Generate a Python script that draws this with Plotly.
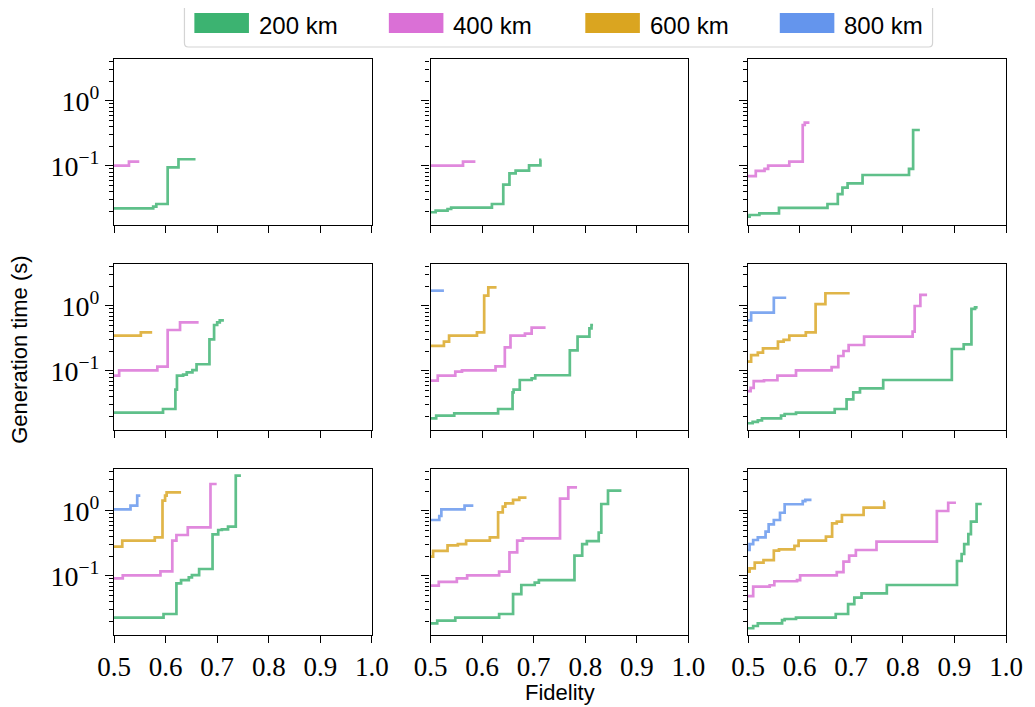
import plotly.graph_objects as go
from plotly.subplots import make_subplots

# the page body adds an 8px margin, so the figure is drawn 8px smaller
OFF = 8
W, H = 1035 - OFF, 707 - OFF
ML, MR, MT, MB = 114 - OFF, 22, 59 - OFF, 72

distances = ["200 km", "400 km", "600 km", "800 km"]
colors = ["#3CB371", "#DA70D6", "#DAA520", "#6495ED"]

x_ticks = [0.5, 0.6, 0.7, 0.8, 0.9, 1.0]
x_tick_labels = ["0.5", "0.6", "0.7", "0.8", "0.9", "1.0"]
y_major = [0.1, 1.0]
y_major_labels = ["10<sup>−1</sup>", "10<sup>0</sup>"]
y_minor = [0.02, 0.03, 0.04, 0.05, 0.06, 0.07, 0.08, 0.09,
           0.2, 0.3, 0.4, 0.5, 0.6, 0.7, 0.8, 0.9, 2, 3, 4]

# (fidelity, generation time [s]) step points, per panel and distance
r1c1_200 = [(0.5, 0.0223), (0.576, 0.0237), (0.582, 0.026), (0.604, 0.095), (0.625, 0.127), (0.658, 0.127)]
r1c1_400 = [(0.5, 0.101), (0.529, 0.117), (0.549, 0.117)]

r1c2_200 = [(0.5, 0.0194), (0.51, 0.0205), (0.533, 0.0218), (0.54, 0.0229), (0.619, 0.026), (0.641, 0.0516),
            (0.653, 0.077), (0.665, 0.0848), (0.691, 0.102), (0.713, 0.124), (0.715, 0.124)]
r1c2_400 = [(0.5, 0.101), (0.563, 0.117), (0.587, 0.117)]

r1c3_200 = [(0.5, 0.0166), (0.503, 0.0176), (0.522, 0.0187), (0.560, 0.0226), (0.654, 0.026), (0.674, 0.037),
            (0.683, 0.0464), (0.693, 0.054), (0.722, 0.0727), (0.812, 0.09), (0.820, 0.358), (0.833, 0.358)]
r1c3_400 = [(0.5, 0.070), (0.515, 0.0838), (0.532, 0.09), (0.539, 0.101), (0.580, 0.117), (0.606, 0.427),
            (0.610, 0.464), (0.619, 0.464)]

r2c1_200 = [(0.5, 0.0229), (0.595, 0.026), (0.619, 0.0516), (0.622, 0.0848), (0.634, 0.088), (0.641, 0.0955),
            (0.652, 0.103), (0.660, 0.127), (0.685, 0.307), (0.694, 0.51), (0.700, 0.56), (0.705, 0.6), (0.713, 0.6)]
r2c1_400 = [(0.5, 0.0848), (0.510, 0.102), (0.584, 0.117), (0.604, 0.427), (0.628, 0.56), (0.664, 0.56)]
r2c1_600 = [(0.5, 0.35), (0.552, 0.394), (0.574, 0.394)]

r2c2_200 = [(0.5, 0.0187), (0.511, 0.0205), (0.546, 0.0223), (0.631, 0.026), (0.659, 0.047), (0.661, 0.0516),
            (0.673, 0.0727), (0.696, 0.077), (0.703, 0.086), (0.770, 0.208), (0.785, 0.337), (0.808, 0.453),
            (0.812, 0.51), (0.815, 0.51)]
r2c2_400 = [(0.5, 0.071), (0.514, 0.0848), (0.548, 0.098), (0.561, 0.102), (0.626, 0.118), (0.644, 0.231),
            (0.655, 0.35), (0.683, 0.375), (0.696, 0.464), (0.723, 0.464)]
r2c2_600 = [(0.5, 0.243), (0.526, 0.283), (0.536, 0.35), (0.590, 0.394), (0.604, 1.44), (0.612, 1.94), (0.628, 1.94)]
r2c2_800 = [(0.5, 1.72), (0.526, 1.72)]

r2c3_200 = [(0.5, 0.0157), (0.509, 0.0165), (0.519, 0.0174), (0.527, 0.0187), (0.564, 0.0205), (0.571, 0.0218),
            (0.593, 0.0229), (0.668, 0.026), (0.691, 0.0366), (0.704, 0.047), (0.717, 0.054), (0.762, 0.0727),
            (0.895, 0.218), (0.918, 0.257), (0.933, 0.9), (0.940, 0.95), (0.945, 0.95)]
r2c3_400 = [(0.5, 0.049), (0.505, 0.055), (0.511, 0.070), (0.531, 0.072), (0.557, 0.0848), (0.593, 0.102),
            (0.662, 0.115), (0.675, 0.17), (0.685, 0.203), (0.695, 0.251), (0.725, 0.337), (0.819, 0.403),
            (0.823, 1.0), (0.834, 1.48), (0.847, 1.48)]
r2c3_600 = [(0.5, 0.139), (0.506, 0.176), (0.519, 0.192), (0.529, 0.223), (0.558, 0.283), (0.569, 0.3),
            (0.580, 0.35), (0.612, 0.394), (0.631, 1.07), (0.650, 1.57), (0.697, 1.57)]
r2c3_800 = [(0.5, 0.6), (0.506, 0.79), (0.550, 1.34), (0.574, 1.34)]

r3c1_200 = [(0.5, 0.0229), (0.596, 0.026), (0.621, 0.077), (0.630, 0.0865), (0.645, 0.0955), (0.651, 0.103),
            (0.665, 0.128), (0.691, 0.437), (0.702, 0.51), (0.709, 0.52), (0.721, 0.574), (0.736, 3.5), (0.746, 3.5)]
r3c1_400 = [(0.5, 0.092), (0.517, 0.102), (0.590, 0.118), (0.613, 0.35), (0.621, 0.427), (0.643, 0.56),
            (0.687, 2.6), (0.699, 2.6)]
r3c1_600 = [(0.5, 0.283), (0.516, 0.35), (0.579, 0.394), (0.594, 1.44), (0.599, 1.72), (0.602, 1.94), (0.630, 1.94)]
r3c1_800 = [(0.5, 1.06), (0.532, 1.21), (0.545, 1.72), (0.551, 1.72)]

r3c2_200 = [(0.5, 0.0187), (0.513, 0.0205), (0.548, 0.0229), (0.633, 0.026), (0.660, 0.0525), (0.676, 0.0727),
            (0.702, 0.079), (0.710, 0.0865), (0.779, 0.205), (0.794, 0.31), (0.803, 0.345), (0.826, 0.464),
            (0.831, 1.28), (0.844, 2.06), (0.870, 2.06)]
r3c2_400 = [(0.5, 0.071), (0.516, 0.081), (0.551, 0.092), (0.571, 0.102), (0.633, 0.117), (0.653, 0.231),
            (0.668, 0.35), (0.679, 0.38), (0.751, 1.55), (0.767, 2.31), (0.784, 2.31)]
r3c2_600 = [(0.5, 0.198), (0.505, 0.243), (0.533, 0.296), (0.553, 0.31), (0.569, 0.35), (0.615, 0.394),
            (0.631, 0.954), (0.640, 1.17), (0.645, 1.31), (0.660, 1.48), (0.672, 1.6), (0.686, 1.6)]
r3c2_800 = [(0.5, 0.727), (0.517, 0.838), (0.521, 1.06), (0.566, 1.21), (0.583, 1.21)]

r3c3_200 = [(0.5, 0.0157), (0.510, 0.017), (0.519, 0.0187), (0.566, 0.021), (0.571, 0.0218), (0.593, 0.0229),
            (0.670, 0.026), (0.694, 0.037), (0.706, 0.0464), (0.720, 0.054), (0.769, 0.0727), (0.905, 0.17),
            (0.914, 0.218), (0.919, 0.31), (0.927, 0.442), (0.932, 0.685), (0.943, 1.28), (0.953, 1.28)]
r3c3_400 = [(0.5, 0.049), (0.510, 0.0685), (0.542, 0.072), (0.551, 0.083), (0.595, 0.0865), (0.601, 0.102),
            (0.672, 0.115), (0.685, 0.166), (0.696, 0.205), (0.709, 0.251), (0.749, 0.337), (0.866, 1.0),
            (0.888, 1.34), (0.903, 1.34)]
r3c3_600 = [(0.5, 0.117), (0.503, 0.131), (0.513, 0.16), (0.530, 0.176), (0.550, 0.245), (0.560, 0.257),
            (0.590, 0.29), (0.598, 0.35), (0.651, 0.403), (0.663, 0.646), (0.672, 0.685), (0.682, 0.868),
            (0.724, 1.125), (0.764, 1.39), (0.765, 1.39)]
r3c3_800 = [(0.5, 0.251), (0.503, 0.31), (0.510, 0.358), (0.519, 0.394), (0.534, 0.48), (0.540, 0.623),
            (0.550, 0.727), (0.562, 0.94), (0.571, 1.27), (0.606, 1.42), (0.611, 1.48), (0.623, 1.48)]

panels = {
    (1, 1): [r1c1_200, r1c1_400, None, None],
    (1, 2): [r1c2_200, r1c2_400, None, None],
    (1, 3): [r1c3_200, r1c3_400, None, None],
    (2, 1): [r2c1_200, r2c1_400, r2c1_600, None],
    (2, 2): [r2c2_200, r2c2_400, r2c2_600, r2c2_800],
    (2, 3): [r2c3_200, r2c3_400, r2c3_600, r2c3_800],
    (3, 1): [r3c1_200, r3c1_400, r3c1_600, r3c1_800],
    (3, 2): [r3c2_200, r3c2_400, r3c2_600, r3c2_800],
    (3, 3): [r3c3_200, r3c3_400, r3c3_600, r3c3_800],
}

fig = make_subplots(rows=3, cols=3)

for (r, c), series in panels.items():
    for i, s in enumerate(series):
        if s is None:
            continue
        fig.add_trace(go.Scatter(
            x=[p[0] for p in s], y=[p[1] for p in s],
            mode="lines", line=dict(color=colors[i], width=2.7, shape="hv"),
            opacity=0.82, showlegend=False, name=distances[i], hoverinfo="skip",
        ), row=r, col=c)

PW = W - ML - MR
PH = H - MT - MB


def px_x(p):
    """screen pixel x -> paper coordinate"""
    return (p - OFF - ML) / PW


def px_y(p):
    """screen pixel y -> paper coordinate"""
    return (H - MB - (p - OFF)) / PH


col_px = [(114, 374), (433, 693), (753, 1013)]
row_px = [(59, 225), (264, 430), (469, 635)]

serif = "Liberation Serif"
sans = "Liberation Sans"

for r in range(1, 4):
    for c in range(1, 4):
        idx = (r - 1) * 3 + c
        xa = "xaxis" if idx == 1 else f"xaxis{idx}"
        ya = "yaxis" if idx == 1 else f"yaxis{idx}"
        x0, x1 = col_px[c - 1]
        y0, y1 = row_px[r - 1]
        fig.layout[xa].update(
            domain=[px_x(x0), px_x(x1)],
            range=[0.5, 1.0], showgrid=False, zeroline=False,
            showline=True, linecolor="black", linewidth=1.2, mirror=True,
            ticks="outside", ticklen=7, tickwidth=1.2, tickcolor="black",
            tickmode="array", tickvals=x_ticks, ticktext=x_tick_labels,
            showticklabels=(r == 3),
            tickfont=dict(family=serif, size=27, color="black"),
        )
        fig.layout[ya].update(
            domain=[px_y(y1), px_y(y0)],
            type="log", range=[-1.908, 0.646], showgrid=False, zeroline=False,
            showline=True, linecolor="black", linewidth=1.2, mirror=True,
            ticks="outside", ticklen=8, tickwidth=1.2, tickcolor="black",
            tickmode="array", tickvals=y_major, ticktext=y_major_labels,
            showticklabels=(c == 1),
            tickfont=dict(family=serif, size=28, color="black"),
            minor=dict(tickmode="array", tickvals=y_minor, ticks="outside",
                       ticklen=4, tickwidth=1, tickcolor="black"),
        )

shapes = []
annotations = []

# legend frame with rounded corners
bx0, bx1, by0, by1, rad = 185, 939, 3, 47, 4
frame_path = (
    f"M {px_x(bx0 + rad)} {px_y(by0)} L {px_x(bx1 - rad)} {px_y(by0)} "
    f"Q {px_x(bx1)} {px_y(by0)} {px_x(bx1)} {px_y(by0 + rad)} "
    f"L {px_x(bx1)} {px_y(by1 - rad)} Q {px_x(bx1)} {px_y(by1)} {px_x(bx1 - rad)} {px_y(by1)} "
    f"L {px_x(bx0 + rad)} {px_y(by1)} Q {px_x(bx0)} {px_y(by1)} {px_x(bx0)} {px_y(by1 - rad)} "
    f"L {px_x(bx0)} {px_y(by0 + rad)} Q {px_x(bx0)} {px_y(by0)} {px_x(bx0 + rad)} {px_y(by0)} Z"
)
shapes.append(dict(type="path", xref="paper", yref="paper", path=frame_path,
                   line=dict(color="#d4d4d4", width=1.2), fillcolor="white", layer="above"))

patch_left = [195, 391, 589, 785]
for i, name in enumerate(distances):
    pl = patch_left[i]
    shapes.append(dict(type="rect", xref="paper", yref="paper",
                       x0=px_x(pl), x1=px_x(pl + 55), y0=px_y(33), y1=px_y(13),
                       line=dict(width=0), fillcolor=colors[i], layer="above"))
    annotations.append(dict(text=name, xref="paper", yref="paper",
                            x=px_x(pl + 63), y=px_y(25), xanchor="left", yanchor="middle",
                            showarrow=False, font=dict(family=sans, size=24, color="black")))

annotations.append(dict(text="Fidelity", xref="paper", yref="paper",
                        x=px_x(563), y=px_y(692), xanchor="center", yanchor="middle",
                        showarrow=False, font=dict(family=sans, size=22, color="black")))
annotations.append(dict(text="Generation time (s)", xref="paper", yref="paper",
                        x=px_x(19), y=px_y(350), xanchor="center", yanchor="middle", textangle=-90,
                        showarrow=False, font=dict(family=sans, size=22, color="black")))

fig.update_layout(
    width=W, height=H, margin=dict(l=ML, r=MR, t=MT, b=MB),
    paper_bgcolor="white", plot_bgcolor="white",
    shapes=shapes, annotations=annotations, showlegend=False,
)

fig.write_html("out.html")
